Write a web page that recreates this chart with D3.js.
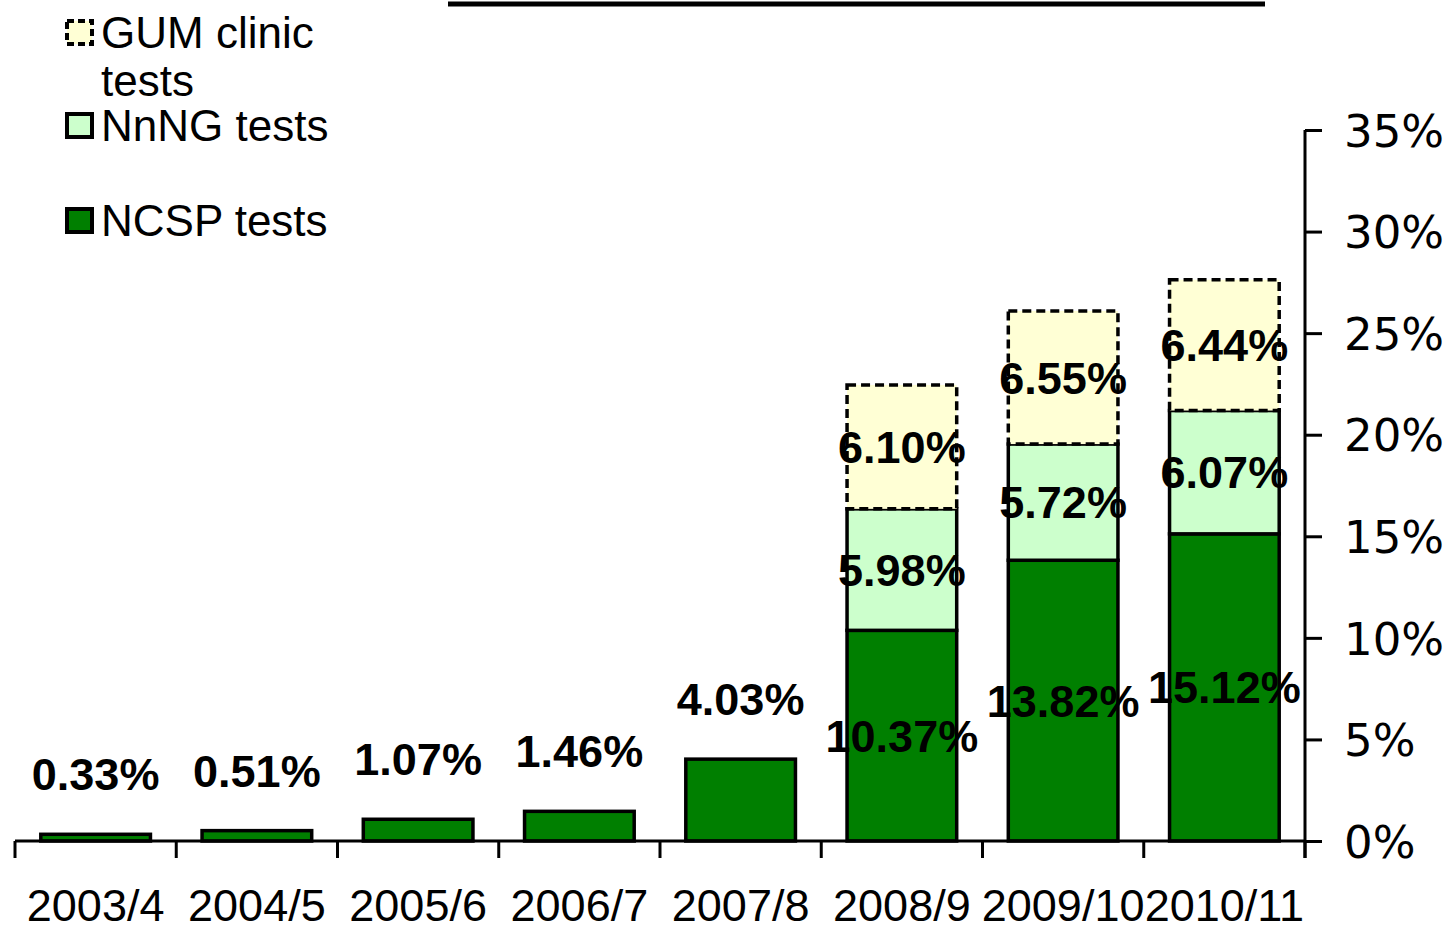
<!DOCTYPE html>
<html><head><meta charset="utf-8">
<script src="https://cdn.jsdelivr.net/npm/d3@7"></script>
<style>
html,body{margin:0;padding:0;background:#fff;}
svg{display:block;font-family:"Liberation Sans",Arial,sans-serif;}
</style></head><body>
<svg id="c" width="1445" height="932"></svg>
<script>
const categories = ["2003/4","2004/5","2005/6","2006/7","2007/8","2008/9","2009/10","2010/11"];
const ncsp = [0.33,0.51,1.07,1.46,4.03,10.37,13.82,15.12];
const nnng = [0,0,0,0,0,5.98,5.72,6.07];
const gum  = [0,0,0,0,0,6.10,6.55,6.44];
const yTicks = [0,5,10,15,20,25,30,35];
const seriesNames = ["GUM clinic tests","NnNG tests","NCSP tests"];

const svg = d3.select("#c");
const x = d3.scaleBand().domain(categories).range([15,1305]).paddingInner(0.32).paddingOuter(0.16);
const y = d3.scaleLinear().domain([0,35]).range([841,130]);

const rows = categories.map((c,i)=>({cat:c, ncsp:ncsp[i], nnng:nnng[i], gum:gum[i]}));
const stack = d3.stack().keys(["ncsp","nnng","gum"])(rows);
const fills = {ncsp:"#007F00", nnng:"#CCFFCC", gum:"#FFFFD5"};

// title underline (title cut off at top)
svg.append("line").attr("x1",448).attr("x2",1265).attr("y1",4).attr("y2",4)
  .attr("stroke","#000").attr("stroke-width",5);

stack.forEach(layer=>{
  const key = layer.key;
  svg.append("g").selectAll("rect").data(layer.filter(d=>d[1]-d[0]>0)).join("rect")
    .attr("x",d=>x(d.data.cat)).attr("width",x.bandwidth())
    .attr("y",d=>y(d[1])).attr("height",d=>y(d[0])-y(d[1]))
    .attr("fill",fills[key]).attr("stroke","#000").attr("stroke-width",3.5)
    .attr("stroke-dasharray", key==="gum" ? "9,5" : null);
});

// axes
const xAxis = svg.append("g").attr("transform","translate(0,841)")
  .call(d3.axisBottom(x).tickSize(0).tickFormat(""));
xAxis.select(".domain").attr("stroke","#000").attr("stroke-width",3).attr("d","M15,0H1305");
const bounds = categories.map(c=>x(c)-x.step()*x.paddingInner()/2).concat([1305]);
bounds[0]=15;
svg.append("g").selectAll("line").data(bounds).join("line")
  .attr("x1",d=>d).attr("x2",d=>d).attr("y1",841).attr("y2",858)
  .attr("stroke","#000").attr("stroke-width",3);
svg.append("g").selectAll("text").data(categories).join("text")
  .attr("x",d=>x(d)+x.bandwidth()/2).attr("y",921)
  .attr("text-anchor","middle").attr("font-size",45)
  .text(d=>d);

const yAxis = svg.append("g").attr("transform","translate(1305,0)")
  .call(d3.axisRight(y).tickValues(yTicks).tickSize(17).tickPadding(22).tickFormat(d=>d+"%"));
yAxis.select(".domain").attr("stroke","#000").attr("stroke-width",3).attr("d","M0,130V858");
yAxis.selectAll(".tick line").attr("stroke","#000").attr("stroke-width",3);
yAxis.selectAll(".tick text").attr("font-size",45).attr("fill","#000")
  .attr("font-family","'DejaVu Sans',Verdana,sans-serif").attr("dy","0.36em");

// value labels
const lab = svg.append("g").attr("font-weight","bold").attr("font-size",45).attr("text-anchor","middle");
stack.forEach(layer=>{
  layer.forEach(d=>{
    const v = d[1]-d[0];
    if(v<=0) return;
    const stacked = d.data.nnng>0;
    const cx = x(d.data.cat)+x.bandwidth()/2;
    const cy = stacked ? (y(d[0])+y(d[1]))/2 + 16 : y(d[1]) - 44;
    lab.append("text").attr("x",cx).attr("y",cy).attr("fill","#000")
      .text(v.toFixed(2)+"%");
  });
});

// legend
const leg = svg.append("g").attr("font-size",44);
const legItems = [
  {key:"gum", lines:["GUM clinic","tests"], y:21},
  {key:"nnng", lines:["NnNG tests"], y:114},
  {key:"ncsp", lines:["NCSP tests"], y:209}
];
legItems.forEach(it=>{
  leg.append("rect").attr("x",67).attr("y",it.y).attr("width",25).attr("height",23)
    .attr("fill",fills[it.key]).attr("stroke","#000").attr("stroke-width",4)
    .attr("stroke-dasharray", it.key==="gum" ? "7,4" : null);
  it.lines.forEach((t,j)=>{
    leg.append("text").attr("x",101).attr("y",it.y+27+j*48).text(t);
  });
});
</script></body></html>
